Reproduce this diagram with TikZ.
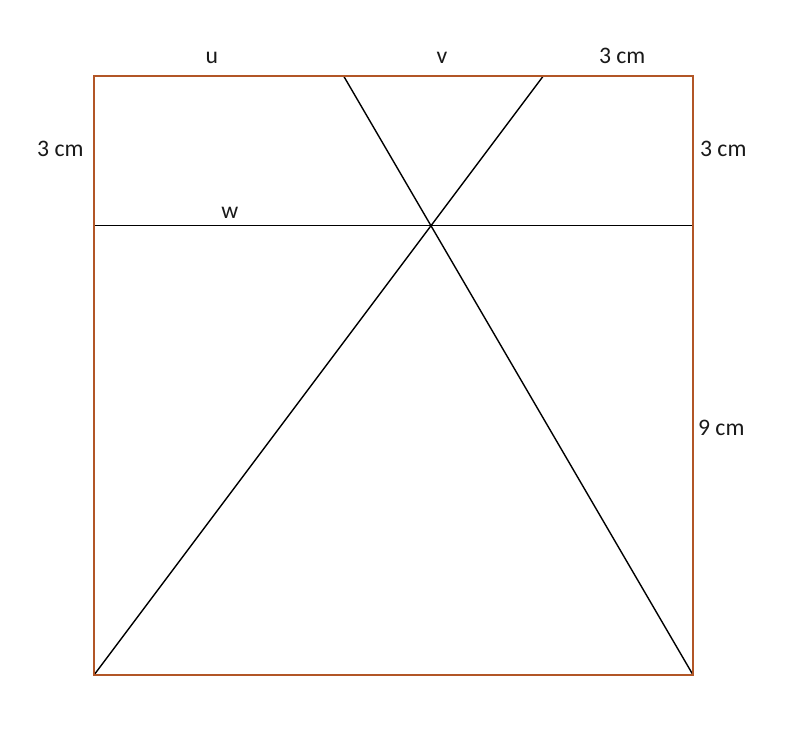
\documentclass[tikz,border=0pt]{standalone}
\usepackage{fontspec}
\setmainfont{Carlito}
\definecolor{edgebrown}{RGB}{178,86,38}
\usetikzlibrary{positioning, calc}

\begin{document}
\begin{tikzpicture}[
    frame/.style={draw=edgebrown, line width=1.1pt},
    cut/.style={draw=black, line width=0.8pt},
    lbl/.style={font=\fontsize{13.5}{16}\selectfont, text=black!90, inner sep=1pt}
  ]
    \useasboundingbox (-1.884,-1.162) rectangle (14.143,13.522);
    % corners and points on the square
    \coordinate (bl) at (0,0);
    \coordinate (br) at (12,0);
    \coordinate (tr) at (12,12);
    \coordinate (tl) at (0,12);
    \coordinate (pu) at (5,12);
    \coordinate (pv) at (9,12);
    \coordinate (wl) at (0,9);
    \coordinate (wr) at (12,9);

    \draw[cut] (wl) -- (wr);
    \draw[cut] (bl) -- (pv);
    \draw[cut] (br) -- (pu);
    \draw[frame] (bl) rectangle (tr);

    % labels
    \node[lbl] (lu) at (2.36,12.36) {u};
    \node[lbl] (lv) at (6.97,12.36) {v};
    \node[lbl] (ltop) at (10.58,12.40) {3 cm};
    \node[lbl, anchor=east] (lleft) at (-0.17,10.54) {3 cm};
    \node[lbl, anchor=west] (lright) at (12.10,10.54) {3 cm};
    \node[lbl] (lw) at (2.72,9.26) {w};
    \node[lbl, anchor=west] (lnine) at (12.06,4.95) {9 cm};
  \end{tikzpicture}
\end{document}
